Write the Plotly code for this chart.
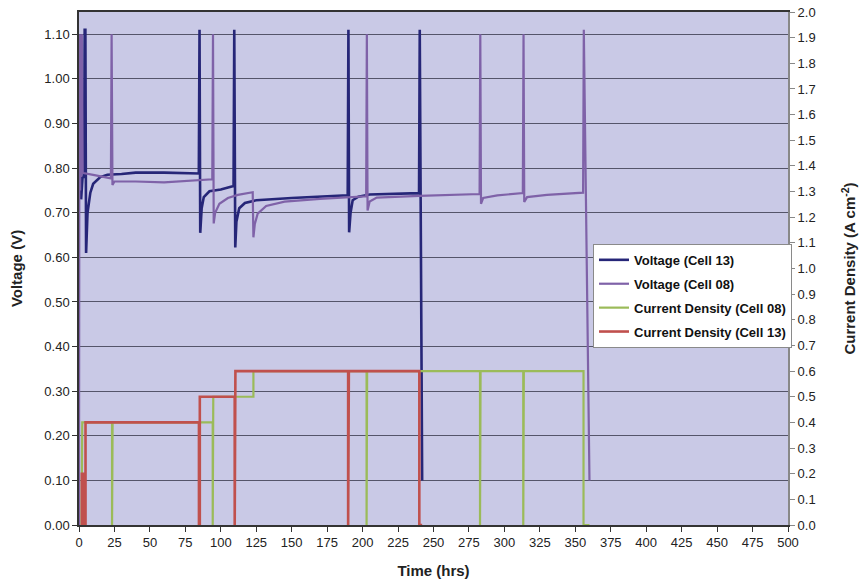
import plotly.graph_objects as go

# Voltage, Cell 13
t_v13 = [0.8, 1.5, 2.5, 3.5, 4.0, 4.5, 5.0, 6.0, 8.0, 10.0, 15.0, 20.0, 30.0, 40.0, 60.0, 84.5,
         85.0, 85.5, 86.5, 88.0, 92.0, 100.0, 109.0,
         109.5, 110.2, 111.0, 113.0, 117.0, 125.0, 150.0, 189.5,
         190.0, 190.5, 191.5, 193.0, 197.0, 205.0, 239.8,
         240.3, 242.0]
v_v13 = [1.10, 0.73, 0.78, 0.78, 1.11, 1.11, 0.61, 0.70, 0.745, 0.765, 0.780, 0.785, 0.787, 0.790, 0.790, 0.788,
         1.11, 0.655, 0.71, 0.735, 0.748, 0.752, 0.760,
         1.11, 0.622, 0.68, 0.71, 0.722, 0.728, 0.733, 0.739,
         1.11, 0.656, 0.70, 0.728, 0.736, 0.741, 0.744,
         1.11, 0.10]

# Voltage, Cell 08
t_v08 = [0.0, 0.3, 0.8, 1.2, 1.6, 2.0, 2.6, 3.0, 10.0, 22.5,
         23.0, 23.6, 25.0, 40.0, 60.0, 80.0, 94.0,
         94.5, 95.0, 96.0, 99.0, 105.0, 112.0, 122.5,
         123.0, 124.0, 126.0, 132.0, 145.0, 170.0, 202.5,
         203.0, 203.5, 205.0, 210.0, 240.0, 282.5,
         283.0, 283.5, 285.0, 295.0, 313.0,
         313.5, 314.0, 316.0, 330.0, 355.5,
         356.0, 360.0]
v_v08 = [0.0, 1.10, 0.75, 1.10, 0.78, 1.10, 0.79, 0.789, 0.785, 0.777,
         1.10, 0.762, 0.770, 0.770, 0.768, 0.772, 0.775,
         1.10, 0.676, 0.700, 0.720, 0.733, 0.740, 0.746,
         0.645, 0.675, 0.698, 0.715, 0.725, 0.731, 0.737,
         1.10, 0.705, 0.725, 0.734, 0.738, 0.742,
         1.10, 0.720, 0.733, 0.739, 0.744,
         1.10, 0.724, 0.735, 0.740, 0.745,
         1.11, 0.10]

# Current density, Cell 08
t_j08 = [1.8, 1.8, 2.3, 2.3, 23.3, 23.3, 23.7, 23.7, 94.3, 94.3, 94.7, 94.7, 123.0, 123.0,
         202.8, 202.8, 203.2, 203.2, 282.8, 282.8, 283.2, 283.2, 313.3, 313.3, 313.7, 313.7,
         355.8, 355.8, 360.0]
j_j08 = [0.0, 0.2, 0.2, 0.4, 0.4, 0.0, 0.0, 0.4, 0.4, 0.0, 0.0, 0.5, 0.5, 0.6,
         0.6, 0.0, 0.0, 0.6, 0.6, 0.0, 0.0, 0.6, 0.6, 0.0, 0.0, 0.6,
         0.6, 0.0, 0.0]

# Current density, Cell 13
t_j13 = [2.0, 2.0, 3.0, 3.0, 4.6, 4.6, 84.6, 84.6, 85.2, 85.2, 109.8, 109.8, 110.3, 110.3,
         189.8, 189.8, 190.3, 190.3, 240.0, 240.0, 242.0]
j_j13 = [0.0, 0.2, 0.2, 0.0, 0.0, 0.4, 0.4, 0.0, 0.0, 0.5, 0.5, 0.0, 0.0, 0.6,
         0.6, 0.0, 0.0, 0.6, 0.6, 0.0, 0.0]

series_names = ["Voltage (Cell 13)", "Voltage (Cell 08)",
                "Current Density (Cell 08)", "Current Density (Cell 13)"]

FONT = "Liberation Sans, Arial, sans-serif"

fig = go.Figure()
fig.add_trace(go.Scatter(x=t_v13, y=v_v13, mode="lines", name=series_names[0],
                         line=dict(color="#262678", width=2.6), legendgroup="a"))
fig.add_trace(go.Scatter(x=t_v08, y=v_v08, mode="lines", name=series_names[1],
                         line=dict(color="#7F62A8", width=2.2), legendgroup="b"))
fig.add_trace(go.Scatter(x=t_j08, y=j_j08, mode="lines", name=series_names[2], yaxis="y2",
                         line=dict(color="#9BBB59", width=2.2), legendgroup="c"))
fig.add_trace(go.Scatter(x=t_j13, y=j_j13, mode="lines", name=series_names[3], yaxis="y2",
                         line=dict(color="#C0504D", width=2.6), legendgroup="d"))

fig.update_layout(
    width=862, height=582,
    margin=dict(l=79, r=74, t=12, b=57),
    paper_bgcolor="white",
    plot_bgcolor="rgb(201,201,230)",
    font=dict(family=FONT, size=13, color="#222222"),
    showlegend=True,
    legend=dict(x=0.725, y=0.548, xanchor="left", yanchor="top",
                bgcolor="white", bordercolor="#8a8a8a", borderwidth=1,
                font=dict(family=FONT, size=13, color="#111111", weight="bold"),
                itemwidth=30, tracegroupgap=4),
    xaxis=dict(range=[0, 500], dtick=25, tick0=0, showgrid=False, zeroline=False,
               showline=True, linecolor="#333333", linewidth=1.5, mirror=True,
               ticks="outside", ticklen=5, tickcolor="#333333", automargin=False,
               title=dict(text="<b>Time (hrs)</b>", font=dict(size=15), standoff=16)),
    yaxis=dict(range=[0, 1.15], dtick=0.1, tick0=0, tickformat=".2f",
               showgrid=True, gridcolor="#55556a", gridwidth=1, zeroline=False,
               showline=True, linecolor="#333333", linewidth=1.5,
               ticks="outside", ticklen=5, tickcolor="#333333", automargin=False,
               title=dict(text="<b>Voltage (V)</b>", font=dict(size=15), standoff=18)),
    yaxis2=dict(range=[0, 2.0], dtick=0.1, tick0=0, tickformat=".1f",
                overlaying="y", side="right", showgrid=False, zeroline=False,
                showline=True, linecolor="#888888", linewidth=2,
                ticks="outside", ticklen=5, tickcolor="#888888", automargin=False,
                title=dict(text="<b>Current Density (A cm<sup>-2</sup>)</b>", font=dict(size=15), standoff=30)),
)

fig.write_html("out.html")
